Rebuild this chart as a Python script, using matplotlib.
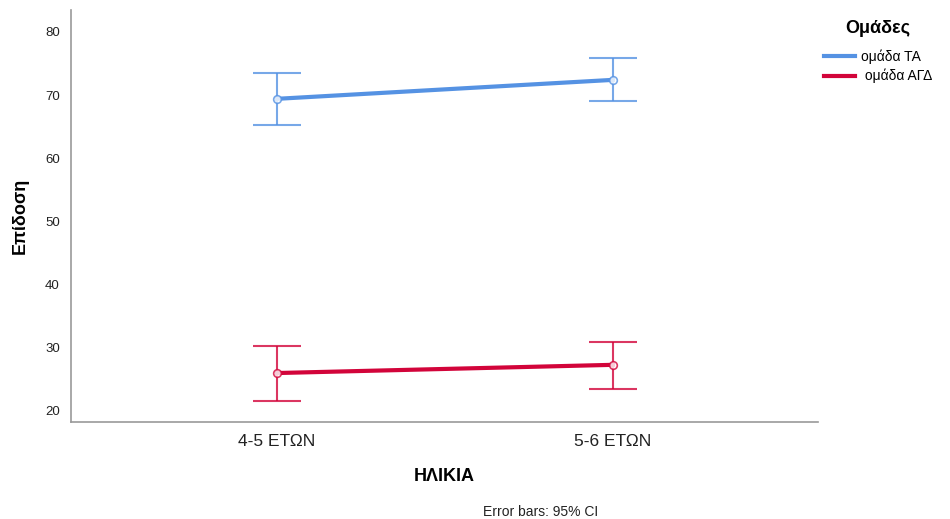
import matplotlib
matplotlib.use("Agg")
import matplotlib.pyplot as plt
from matplotlib.lines import Line2D

# Data
ages = ["4-5 ΕΤΩΝ", "5-6 ΕΤΩΝ"]
groups = ["ομάδα ΤΑ", " ομάδα ΑΓΔ"]
means_ta = [69.4, 72.4]
lower_ta = [65.3, 69.1]
upper_ta = [73.5, 75.9]
means_agd = [26.0, 27.3]
lower_agd = [21.6, 23.5]
upper_agd = [30.3, 30.9]
yticks = [20, 30, 40, 50, 60, 70, 80]

COLORS = ["#5592e3", "#d2043a"]

plt.rcParams['font.family'] = ['Liberation Sans', 'DejaVu Sans']

fig = plt.figure(figsize=(9.5, 5.19), dpi=100)
ax = fig.add_axes([0.0747, 0.187, 0.7863, 0.794])

x = list(range(len(ages)))
series = [(means_ta, lower_ta, upper_ta), (means_agd, lower_agd, upper_agd)]
for (m, lo, hi), col in zip(series, COLORS):
    err = [[a - b for a, b in zip(m, lo)], [b - a for a, b in zip(m, hi)]]
    ax.errorbar(x, m, yerr=err, fmt="none", ecolor=col, elinewidth=1.5,
                capsize=17.5, capthick=1.5, alpha=0.8, zorder=2)
    ax.plot(x, m, color=col, linewidth=3, zorder=3)
    ax.plot(x, m, "o", markersize=5.5, markerfacecolor="white",
            markeredgecolor=col, markeredgewidth=1.2, alpha=0.8, zorder=4)

ax.set_xlim(-0.613, 1.61)
ax.set_ylim(18.26, 83.48)
ax.set_xticks(x)
ax.set_xticklabels(ages, fontsize=12.5, color="#222222")
ax.set_yticks(yticks)
ax.set_yticklabels([str(t) for t in yticks], fontsize=9.5, color="#222222")
ax.tick_params(length=0)
ax.tick_params(axis="x", pad=9)
ax.tick_params(axis="y", pad=8)
for s in ["top", "right"]:
    ax.spines[s].set_visible(False)
for s in ["left", "bottom"]:
    ax.spines[s].set_color("#999999")
    ax.spines[s].set_linewidth(1.2)

ax.set_ylabel("Επίδοση", fontsize=13, fontweight="bold", labelpad=12)
ax.set_xlabel("ΗΛΙΚΙΑ", fontsize=13, fontweight="bold", labelpad=13)
fig.text(0.569, 0.005, "Error bars: 95% CI", fontsize=10, ha="center",
         color="#222222")

handles = [Line2D([0], [0], color=c, linewidth=3) for c in COLORS]
leg = fig.legend(handles, groups, loc="upper left",
                 bbox_to_anchor=(0.862, 0.972), frameon=False, fontsize=10,
                 title="Ομάδες", title_fontproperties={"weight": "bold", "size": 13},
                 handlelength=2.2, handletextpad=0.4, labelspacing=0.35,
                 borderaxespad=0)
leg._legend_box.sep = 9

fig.savefig("out.png", dpi=100)
